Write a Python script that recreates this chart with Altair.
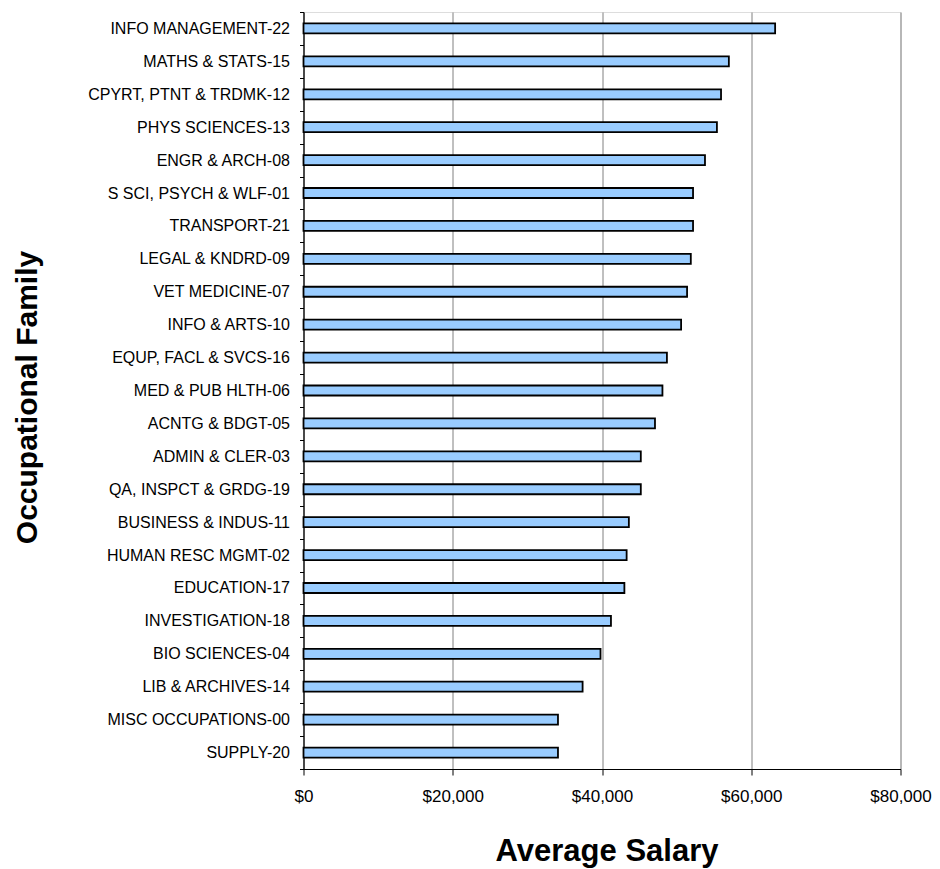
import altair as alt
import pandas as pd

categories = [
    "INFO MANAGEMENT-22", "MATHS & STATS-15", "CPYRT, PTNT & TRDMK-12",
    "PHYS SCIENCES-13", "ENGR & ARCH-08", "S SCI, PSYCH & WLF-01",
    "TRANSPORT-21", "LEGAL & KNDRD-09", "VET MEDICINE-07", "INFO & ARTS-10",
    "EQUP, FACL & SVCS-16", "MED & PUB HLTH-06", "ACNTG & BDGT-05",
    "ADMIN & CLER-03", "QA, INSPCT & GRDG-19", "BUSINESS & INDUS-11",
    "HUMAN RESC MGMT-02", "EDUCATION-17", "INVESTIGATION-18",
    "BIO SCIENCES-04", "LIB & ARCHIVES-14", "MISC OCCUPATIONS-00", "SUPPLY-20",
]
salaries = [
    63200, 57000, 55950, 55400, 53800, 52200,
    52200, 51900, 51400, 50600,
    48700, 48100, 47100,
    45200, 45200, 43600,
    43300, 43000, 41200,
    39800, 37400, 34100, 34100,
]
x_ticks = [0, 20000, 40000, 60000, 80000]

df = pd.DataFrame({"family": categories, "salary": salaries})

FONT = "Liberation Sans"

chart = (
    alt.Chart(df)
    .mark_bar(height=10, fill="#99CCFF", stroke="#000000", strokeWidth=1.8)
    .encode(
        x=alt.X(
            "salary:Q",
            scale=alt.Scale(domain=[0, 80000], nice=False, zero=True),
            axis=alt.Axis(
                values=x_ticks,
                format="$,.0f",
                title="Average Salary",
                titleFont=FONT,
                titleFontSize=31,
                titleFontWeight="bold",
                titleColor="#000000",
                titleBaseline="alphabetic",
                titleAlign="center",
                titleX=303,
                titleY=91,
                labelFont=FONT,
                labelFontSize=17,
                labelColor="#000000",
                labelPadding=13,
                labelFlush=False,
                labelOverlap=False,
                tickSize=6,
                tickColor="#000000",
                domainColor="#000000",
                domainWidth=1.2,
                grid=True,
                gridColor="#808080",
                gridWidth=1,
            ),
        ),
        y=alt.Y(
            "family:N",
            sort=categories,
            scale=alt.Scale(paddingInner=0, paddingOuter=0),
            axis=alt.Axis(
                title="Occupational Family",
                titleFont=FONT,
                titleFontSize=30,
                titleFontWeight="bold",
                titleColor="#000000",
                titleAngle=-90,
                titleAlign="center",
                titleBaseline="middle",
                titleX=-276,
                titleY=385,
                labelFont=FONT,
                labelFontSize=16,
                labelColor="#000000",
                labelPadding=10,
                labelLimit=300,
                tickBand="extent",
                tickSize=4,
                tickColor="#000000",
                domainColor="#000000",
                domainWidth=1.2,
                grid=False,
            ),
        ),
    )
    .properties(
        width=597,
        height=757,
        autosize=alt.AutoSizeParams(type="none"),
        padding={"left": 303.5, "top": 12, "right": 39.5, "bottom": 100},
    )
    .configure_view(stroke="#808080", strokeWidth=1)
    .configure(background="#ffffff")
)

chart.save("out.html", embed_options={"renderer": "svg", "actions": False})
